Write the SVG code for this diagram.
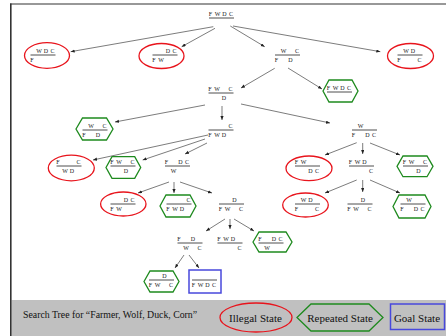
<svg xmlns="http://www.w3.org/2000/svg" width="446" height="336" viewBox="0 0 446 336">
<style>
.t{font-family:"Liberation Serif","Times New Roman",serif;font-size:6px;text-anchor:middle;fill:#222}
.b{stroke:#222;stroke-width:0.8}
.ill{fill:none;stroke:#e8141c;stroke-width:1.3}
.rep{fill:none;stroke:#1e8a1e;stroke-width:1.3}
.goal{fill:none;stroke:#4848dc;stroke-width:1.5}
.c line{stroke:#444;stroke-width:0.7;marker-end:url(#ah)}
.lg{font-family:"Liberation Serif","Times New Roman",serif;fill:#111}
</style>
<defs>
<marker id="ah" markerUnits="userSpaceOnUse" markerWidth="5" markerHeight="4" refX="4" refY="1.6" orient="auto">
<path d="M0,0 L4,1.6 L0,3.2 z" fill="#222"/>
</marker>
</defs>
<rect x="0" y="0" width="446" height="336" fill="#fff"/>
<rect x="11.5" y="300" width="435" height="36" fill="#c0c0c0"/>
<line x1="10" y1="4" x2="446" y2="4" stroke="#333" stroke-width="1.2"/>
<line x1="10.8" y1="3.4" x2="10.8" y2="336" stroke="#333" stroke-width="1.6"/>

<g class="c" id="connectors">
<line x1="213.3" y1="26.7" x2="70.7" y2="51.7"/>
<line x1="215" y1="28.3" x2="181.7" y2="46.7"/>
<line x1="230.3" y1="26" x2="264.7" y2="46.7"/>
<line x1="233" y1="26" x2="380.3" y2="51.7"/>
<line x1="274.7" y1="68.3" x2="241" y2="88"/>
<line x1="288" y1="68" x2="322" y2="89"/>
<line x1="205" y1="105" x2="115" y2="122"/>
<line x1="222" y1="106" x2="222" y2="120"/>
<line x1="241" y1="104" x2="330" y2="123"/>
<line x1="208" y1="135" x2="93" y2="160"/>
<line x1="205" y1="139" x2="142.7" y2="160"/>
<line x1="207" y1="143" x2="185" y2="154"/>
<line x1="356.7" y1="142.7" x2="325" y2="155"/>
<line x1="362.7" y1="143" x2="362.7" y2="154"/>
<line x1="370" y1="143" x2="400" y2="155"/>
<line x1="169" y1="182" x2="138" y2="193"/>
<line x1="174" y1="182" x2="174" y2="193"/>
<line x1="180" y1="182" x2="212" y2="193"/>
<line x1="356.7" y1="180" x2="325" y2="193"/>
<line x1="362.7" y1="180" x2="362.7" y2="192"/>
<line x1="370" y1="180" x2="400" y2="193"/>
<line x1="225" y1="219" x2="206" y2="231"/>
<line x1="230" y1="219" x2="230" y2="229"/>
<line x1="234" y1="219" x2="254" y2="231"/>
<line x1="184" y1="255" x2="175" y2="268"/>
<line x1="189" y1="255" x2="199" y2="268"/>
</g>

<g id="root"><text class="t" x="210.5 217.5 224.5 231" y="16.2">FWDC</text><line class="b" x1="209" y1="18" x2="234" y2="18"/></g>

<g id="nA"><ellipse class="ill" cx="47" cy="55.5" rx="22.5" ry="12.8"/><text class="t" x="39 46 52.5" y="53">WDC</text><line class="b" x1="30.5" y1="55" x2="55.5" y2="55"/><text class="t" x="32" y="61.5">F</text></g>
<g id="nB"><ellipse class="ill" cx="161.5" cy="56" rx="22.5" ry="12.5"/><text class="t" x="168 174.5" y="53">DC</text><line class="b" x1="152.5" y1="55" x2="177.5" y2="55"/><text class="t" x="154 161" y="61.5">FW</text></g>
<g id="nC"><text class="t" x="283.5 297" y="53">WC</text><line class="b" x1="275" y1="55" x2="300" y2="55"/><text class="t" x="276.5 290.5" y="61.5">FD</text></g>
<g id="nD"><ellipse class="ill" cx="410.5" cy="56" rx="23" ry="12.5"/><text class="t" x="406 413" y="53">WD</text><line class="b" x1="397.5" y1="55" x2="422.5" y2="55"/><text class="t" x="399 419.5" y="61.5">FC</text></g>

<g id="nE"><text class="t" x="210 217 230.5" y="91">FWC</text><line class="b" x1="208.5" y1="93" x2="233.5" y2="93"/><text class="t" x="224" y="99.5">D</text></g>
<g id="nF"><polygon class="rep" points="323,91 329,80 352,80 358,91 352,102 329,102"/><text class="t" x="328.5 335.5 342.5 349" y="90">FWDC</text><line class="b" x1="327" y1="92" x2="352" y2="92"/></g>

<g id="nG"><polygon class="rep" points="76,129 82.5,118 106.5,118 113,129 106.5,140 82.5,140"/><text class="t" x="91 104.5" y="128">WC</text><line class="b" x1="82.5" y1="130" x2="107.5" y2="130"/><text class="t" x="84 98" y="136.5">FD</text></g>
<g id="nH"><text class="t" x="230.5" y="128">C</text><line class="b" x1="208.5" y1="130" x2="233.5" y2="130"/><text class="t" x="210 217 224" y="136.5">FWD</text></g>
<g id="nI"><text class="t" x="360.5" y="128">W</text><line class="b" x1="352" y1="130" x2="377" y2="130"/><text class="t" x="353.5 367.5 374" y="136.5">FDC</text></g>

<g id="nJ"><ellipse class="ill" cx="71.3" cy="168" rx="23" ry="12.8"/><text class="t" x="58 78.5" y="164">FC</text><line class="b" x1="56.5" y1="166" x2="81.5" y2="166"/><text class="t" x="65 72" y="172.5">WD</text></g>
<g id="nK"><polygon class="rep" points="106,167.5 112,156.7 134.7,156.7 140.7,167.5 134.7,178.3 112,178.3"/><text class="t" x="112 119 132.5" y="164">FWC</text><line class="b" x1="110.5" y1="166" x2="135.5" y2="166"/><text class="t" x="126" y="172.5">D</text></g>
<g id="nL"><text class="t" x="166.5 180.5 187" y="164">FDC</text><line class="b" x1="165" y1="166" x2="190" y2="166"/><text class="t" x="173.5" y="172.5">W</text></g>
<g id="nM"><ellipse class="ill" cx="309" cy="168.3" rx="23" ry="12.3"/><text class="t" x="296.5 303.5" y="164">FW</text><line class="b" x1="295" y1="166" x2="320" y2="166"/><text class="t" x="310.5 317" y="172.5">DC</text></g>
<g id="nN"><text class="t" x="350.5 357.5 364.5" y="164">FWD</text><line class="b" x1="349" y1="166" x2="374" y2="166"/><text class="t" x="371" y="172.5">C</text></g>
<g id="nO"><polygon class="rep" points="397,166.3 403,156 427,156 433,166.3 427,176.7 403,176.7"/><text class="t" x="404.5 411.5 425" y="164">FWC</text><line class="b" x1="403" y1="166" x2="428" y2="166"/><text class="t" x="418.5" y="172.5">D</text></g>

<g id="nP"><ellipse class="ill" cx="123.3" cy="204" rx="22.7" ry="12"/><text class="t" x="126 132.5" y="202">DC</text><line class="b" x1="110.5" y1="204" x2="135.5" y2="204"/><text class="t" x="112 119" y="210.5">FW</text></g>
<g id="nQ"><polygon class="rep" points="160,206 166,195 190,195 196,206 190,217 166,217"/><text class="t" x="188.5" y="202">C</text><line class="b" x1="166.5" y1="204" x2="191.5" y2="204"/><text class="t" x="168 175 182" y="210.5">FWD</text></g>
<g id="nR"><text class="t" x="234.5" y="202">D</text><line class="b" x1="219" y1="204" x2="244" y2="204"/><text class="t" x="220.5 227.5 241" y="210.5">FWC</text></g>
<g id="nS"><ellipse class="ill" cx="305.5" cy="205" rx="22.8" ry="12"/><text class="t" x="303.5 310.5" y="202">WD</text><line class="b" x1="295" y1="204" x2="320" y2="204"/><text class="t" x="296.5 317" y="210.5">FC</text></g>
<g id="nT"><text class="t" x="363" y="202">D</text><line class="b" x1="347.5" y1="204" x2="372.5" y2="204"/><text class="t" x="349 356 369.5" y="210.5">FWC</text></g>
<g id="nU"><polygon class="rep" points="393,206.5 399,195 425,195 431,206.5 425,218 399,218"/><text class="t" x="409" y="202">W</text><line class="b" x1="400.5" y1="204" x2="425.5" y2="204"/><text class="t" x="402 416 422.5" y="210.5">FDC</text></g>

<g id="nV"><text class="t" x="179 193" y="241">FD</text><line class="b" x1="177.5" y1="243" x2="202.5" y2="243"/><text class="t" x="186 199.5" y="249.5">WC</text></g>
<g id="nW"><text class="t" x="219 226 233" y="241">FWD</text><line class="b" x1="217.5" y1="243" x2="242.5" y2="243"/><text class="t" x="239.5" y="249.5">C</text></g>
<g id="nX"><polygon class="rep" points="253,242 259,232 286,232 292,242 286,252 259,252"/><text class="t" x="260 274 280.5" y="241">FDC</text><line class="b" x1="258.5" y1="243" x2="283.5" y2="243"/><text class="t" x="267" y="249.5">W</text></g>

<g id="nY"><polygon class="rep" points="144,281.5 150,271 173,271 179,281.5 173,292 150,292"/><text class="t" x="164.5" y="278">D</text><line class="b" x1="149" y1="280" x2="174" y2="280"/><text class="t" x="150.5 157.5 171" y="286.5">FWC</text></g>
<g id="nZ"><rect class="goal" x="189" y="270" width="32" height="23"/><line class="b" x1="192" y1="280" x2="217" y2="280"/><text class="t" x="193.5 200.5 207.5 214" y="286.5">FWDC</text></g>

<g id="legend">
<text class="lg" x="23" y="317.5" font-size="9.8">Search Tree for “Farmer, Wolf, Duck, Corn”</text>
<ellipse class="ill" cx="256" cy="317.5" rx="36" ry="14.5"/>
<text class="lg" x="255.5" y="321.5" font-size="11" text-anchor="middle">Illegal State</text>
<polygon class="rep" points="297,317.5 311,304 369,304 383,317.5 369,331 311,331"/>
<text class="lg" x="340" y="321.5" font-size="11" text-anchor="middle">Repeated State</text>
<rect class="goal" x="390.5" y="304" width="54" height="25.5"/>
<text class="lg" x="417" y="321.5" font-size="11" text-anchor="middle">Goal State</text>
</g>
</svg>
